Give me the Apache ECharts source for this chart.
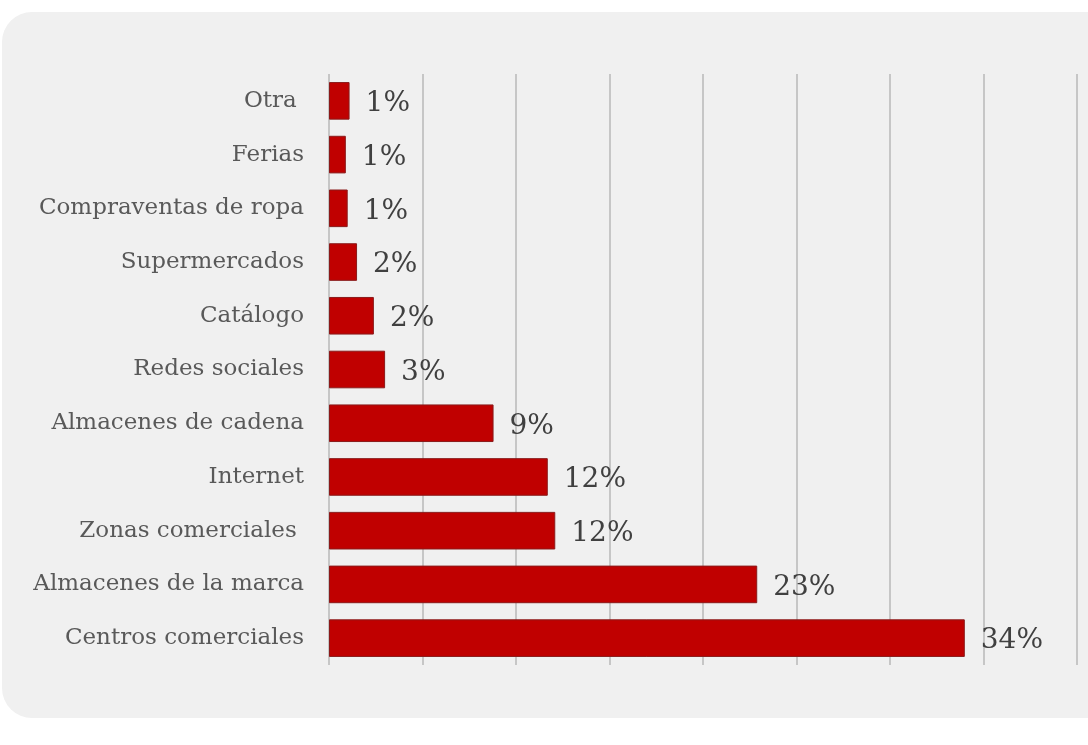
<!DOCTYPE html>
<html>
<head>
<meta charset="utf-8">
<script src="https://cdn.jsdelivr.net/npm/echarts@6/dist/echarts.min.js"></script>
<style>
html,body{margin:0;padding:0;background:#ffffff;}
#chart{width:1088px;height:745px;}
</style>
</head>
<body>
<div id="chart"></div>
<script>
// Categories listed top to bottom
var categories = ["Otra ", "Ferias", "Compraventas de ropa", "Supermercados", "Catálogo", "Redes sociales", "Almacenes de cadena", "Internet", "Zonas comerciales ", "Almacenes de la marca", "Centros comerciales"];
var values = [1.1, 0.9, 1.0, 1.5, 2.4, 3.0, 8.8, 11.7, 12.1, 22.9, 34.0];
var labels = ["1%", "1%", "1%", "2%", "2%", "3%", "9%", "12%", "12%", "23%", "34%"];

var chart = echarts.init(document.getElementById('chart'), null, {renderer: 'canvas'});
var serif = '"DejaVu Serif", "Liberation Serif", serif';
chart.setOption({
  animation: false,
  backgroundColor: '#ffffff',
  graphic: {
    elements: [{
      type: 'rect',
      z: -100,
      silent: true,
      shape: {x: 2, y: 12, width: 1130, height: 706, r: 30},
      style: {fill: '#f0f0f0'}
    }]
  },
  grid: {left: 329, right: 11, top: 74, bottom: 80, containLabel: false},
  xAxis: {
    type: 'value',
    min: 0, max: 40, interval: 5,
    axisLabel: {show: false},
    axisLine: {show: false},
    axisTick: {show: false},
    splitLine: {show: true, lineStyle: {color: '#c6c6c6', width: 2}}
  },
  yAxis: {
    type: 'category',
    inverse: true,
    data: categories,
    axisLine: {show: false},
    axisTick: {show: false},
    axisLabel: {
      margin: 25,
      color: '#595959',
      fontFamily: serif,
      fontSize: 23
    }
  },
  series: [{
    type: 'bar',
    data: values,
    barWidth: '70%',
    itemStyle: {color: '#c00000', borderColor: '#8a1a1a', borderWidth: 1},
    label: {
      show: true,
      position: 'right',
      distance: 16,
      offset: [0, 3],
      color: '#404040',
      fontFamily: serif,
      fontSize: 28,
      formatter: function (p) { return labels[p.dataIndex]; }
    }
  }]
});
</script>
</body>
</html>
